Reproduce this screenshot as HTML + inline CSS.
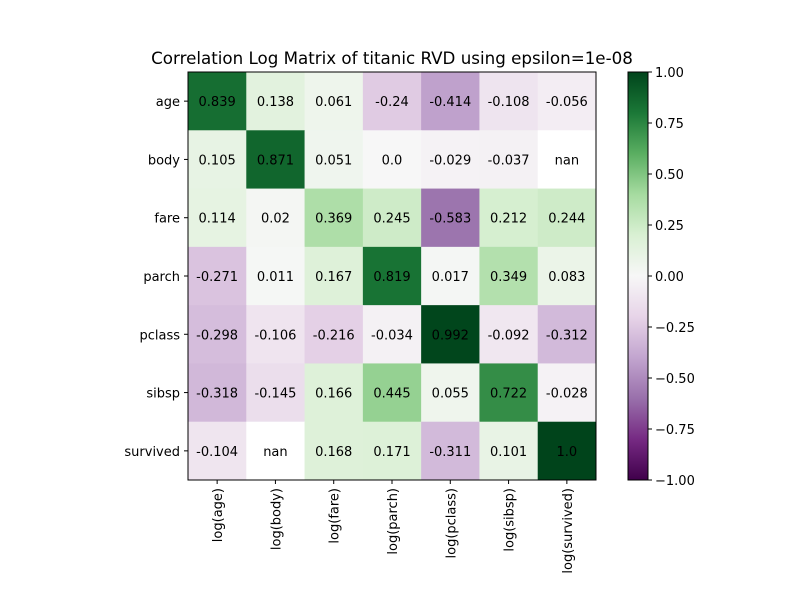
<!DOCTYPE html>
<html><head><meta charset="utf-8"><style>
body{margin:0;background:#fff;font-family:"Liberation Sans","DejaVu Sans",sans-serif;}
</style></head><body>
<svg id="chart" width="800" height="600" xmlns="http://www.w3.org/2000/svg" font-family="DejaVu Sans, Liberation Sans, sans-serif">
<rect width="800" height="600" fill="#fff"/>
<text x="392" y="64" text-anchor="middle" font-size="16.7">Correlation Log Matrix of titanic RVD using epsilon=1e-08</text>
<g id="cells"></g>
<g id="axes"></g>
<defs><linearGradient id="cbg" x1="0" y1="1" x2="0" y2="0"></linearGradient></defs>
<rect x="628" y="72" width="20" height="408" fill="url(#cbg)" stroke="#000" stroke-width="1"/>
<g id="cbticks"></g>
</svg>
<script>
const rowLabels=["age","body","fare","parch","pclass","sibsp","survived"];
const colLabels=["log(age)","log(body)","log(fare)","log(parch)","log(pclass)","log(sibsp)","log(survived)"];
const rowAge=[0.839,0.138,0.061,-0.24,-0.414,-0.108,-0.056];
const rowBody=[0.105,0.871,0.051,0.0,-0.029,-0.037,null];
const rowFare=[0.114,0.02,0.369,0.245,-0.583,0.212,0.244];
const rowParch=[-0.271,0.011,0.167,0.819,0.017,0.349,0.083];
const rowPclass=[-0.298,-0.106,-0.216,-0.034,0.992,-0.092,-0.312];
const rowSibsp=[-0.318,-0.145,0.166,0.445,0.055,0.722,-0.028];
const rowSurvived=[-0.104,null,0.168,0.171,-0.311,0.101,1.0];
const rowLabelsText=[["0.839","0.138","0.061","-0.24","-0.414","-0.108","-0.056"],["0.105","0.871","0.051","0.0","-0.029","-0.037","nan"],["0.114","0.02","0.369","0.245","-0.583","0.212","0.244"],["-0.271","0.011","0.167","0.819","0.017","0.349","0.083"],["-0.298","-0.106","-0.216","-0.034","0.992","-0.092","-0.312"],["-0.318","-0.145","0.166","0.445","0.055","0.722","-0.028"],["-0.104","nan","0.168","0.171","-0.311","0.101","1.0"]];
const matrix=[rowAge,rowBody,rowFare,rowParch,rowPclass,rowSibsp,rowSurvived];
const cbTicks=[1,0.75,0.5,0.25,0,-0.25,-0.5,-0.75,-1];
const cbTickLabels=["1.00","0.75","0.50","0.25","0.00","−0.25","−0.50","−0.75","−1.00"];

const NS="http://www.w3.org/2000/svg";
const X0=188,Y0=72,W=408,H=408,n=7,cw=W/n,ch=H/n;
const stops=[[64,0,75],[118,42,131],[153,112,171],[194,165,207],[231,212,232],[247,247,247],[217,240,211],[166,219,160],[90,174,97],[27,120,55],[0,68,27]];
function cmap(v){let t=(v+1)/2;t=Math.max(0,Math.min(1,t));const p=t*10,i=Math.min(9,Math.floor(p)),f=p-i;const a=stops[i],b=stops[i+1];return `rgb(${Math.round(a[0]+(b[0]-a[0])*f)},${Math.round(a[1]+(b[1]-a[1])*f)},${Math.round(a[2]+(b[2]-a[2])*f)})`;}
function xs(j){return X0+j*cw;} function ys(i){return Y0+i*ch;}
function cbY(v){return Y0+H*(1-(v+1)/2);}
function mk(tag,attrs,parent){const e=document.createElementNS(NS,tag);for(const k in attrs)e.setAttribute(k,attrs[k]);parent.appendChild(e);return e;}
const cells=document.getElementById('cells'),axes=document.getElementById('axes');
matrix.forEach((row,i)=>row.forEach((v,j)=>{
  const r=mk('rect',{x:xs(j),y:ys(i),width:cw+0.5,height:ch+0.5,fill:v===null?'#fff':cmap(v)},cells);
  
  
  const t=mk('text',{x:xs(j)+cw/2,y:ys(i)+ch/2+5,'text-anchor':'middle','font-size':'13'},cells);
  
  
  t.textContent=rowLabelsText[i][j];
}));
mk('rect',{x:X0,y:Y0,width:W,height:H,fill:'none',stroke:'#000','stroke-width':1},axes);
rowLabels.forEach((l,i)=>{
  const y=ys(i)+ch/2;
  mk('line',{x1:X0-4,x2:X0,y1:y,y2:y,stroke:'#000'},axes);
  const t=mk('text',{x:X0-8,y:y+5,'text-anchor':'end','font-size':'13'},axes);
  
  
  t.textContent=l;
});
colLabels.forEach((l,j)=>{
  const x=xs(j)+cw/2;
  mk('line',{x1:x,x2:x,y1:Y0+H,y2:Y0+H+4,stroke:'#000'},axes);
  const t=mk('text',{x:0,y:0,'text-anchor':'end','font-size':'13',transform:`translate(${x+5},${Y0+H+8}) rotate(-90)`},axes);
  
  
  t.textContent=l;
});
const g=document.getElementById('cbg');
for(let k=0;k<=10;k++){mk('stop',{offset:k/10,'stop-color':`rgb(${stops[k].join(',')})`},g);}
const cbt=document.getElementById('cbticks');
cbTicks.forEach((v,k)=>{
  const y=cbY(v);
  mk('line',{x1:648,x2:652,y1:y,y2:y,stroke:'#000'},cbt);
  const t=mk('text',{x:655,y:y+5,'font-size':'13'},cbt);
  
  
  t.textContent=cbTickLabels[k];
});
</script>
</body></html>
